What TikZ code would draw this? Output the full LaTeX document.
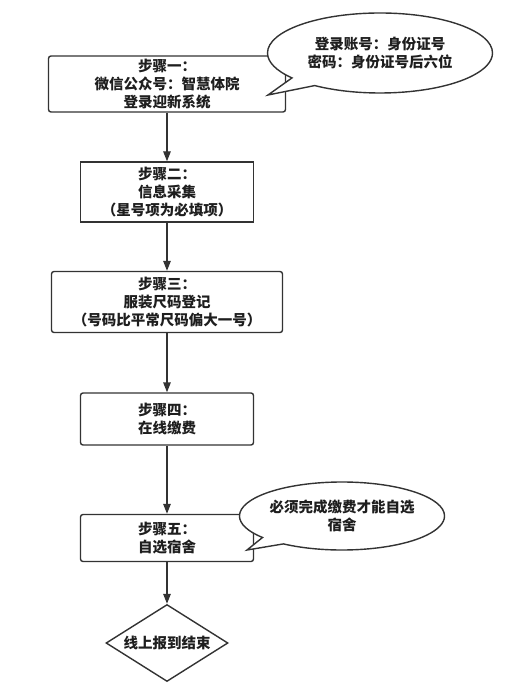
\documentclass[tikz,border=0pt]{standalone}
\usepackage{fontspec}
\setmainfont{Noto Sans CJK SC}
\usetikzlibrary{arrows.meta,shapes.geometric,shapes.callouts}
\definecolor{linegray}{RGB}{51,51,51}
\definecolor{textgray}{RGB}{30,30,30}

\begin{document}
\begin{tikzpicture}[
  x=1pt, y=-1pt,
  box/.style={draw=linegray, line width=1.4pt, fill=white, align=center,
              inner sep=0pt, text=textgray,
              font=\bfseries\fontsize{14.5}{18}\selectfont},
  stepbox/.style={box, rounded corners=2.5pt},
  plainbox/.style={box},
  endbox/.style={box, diamond, aspect=1.58},
  note/.style={box, ellipse callout, callout pointer arc=16},
  arrow/.style={-{Triangle[length=10pt,width=7.5pt]}, line width=1.4pt,
                draw=linegray}
]
\useasboundingbox (0,0) rectangle (523,692);

% steps
\node[stepbox, minimum width=237pt, minimum height=56pt] (step1) at (167,84)
  {步骤一：\\微信公众号：智慧体院\\登录迎新系统};
\node[plainbox, minimum width=173pt, minimum height=60pt] (step2) at (167,192)
  {步骤二：\\信息采集\\（星号项为必填项）};
\node[stepbox, minimum width=231pt, minimum height=61pt] (step3) at (167,302)
  {步骤三：\\服装尺码登记\\（号码比平常尺码偏大一号）};
\node[stepbox, minimum width=173pt, minimum height=52pt] (step4) at (167,419)
  {步骤四：\\在线缴费};
\node[stepbox, minimum width=173pt, minimum height=47pt] (step5) at (167,538)
  {步骤五：\\自选宿舍};
\node[endbox, minimum width=122pt, minimum height=77pt] (finish) at (167,643)
  {线上报到结束};

% notes
\coordinate (tip1) at (268,95);
\coordinate (tip2) at (247,550);
\node[note, minimum width=225pt, minimum height=80pt,
      callout absolute pointer={(tip1)}] (login) at (380,53)
  {登录账号：身份证号\\密码：身份证号后六位};
\node[note, minimum width=195pt, minimum height=68pt,
      callout absolute pointer={(tip2)}] (dorm) at (342,516)
  {必须完成缴费才能自选\\宿舍};

\draw[arrow] (step1) -- (step2);
\draw[arrow] (step2) -- (step3);
\draw[arrow] (step3) -- (step4);
\draw[arrow] (step4) -- (step5);
\draw[arrow] (step5) -- (finish);
\end{tikzpicture}
\end{document}
